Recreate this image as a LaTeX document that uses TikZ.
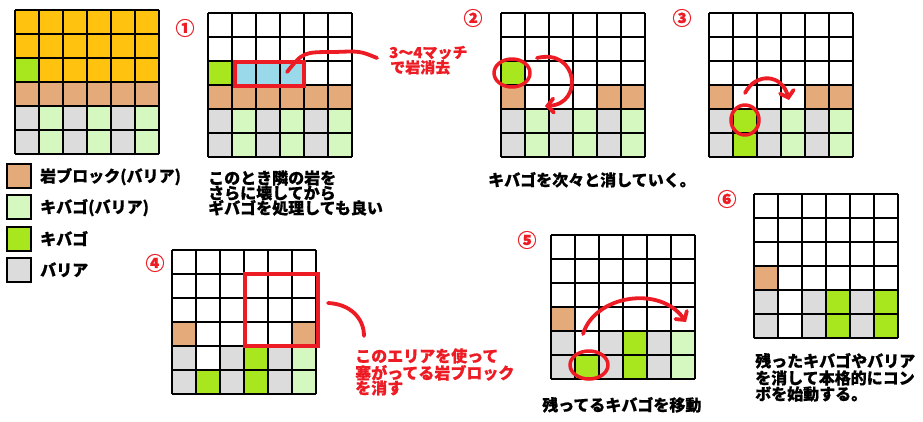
\documentclass[tikz,border=0pt]{standalone}
\usepackage{fontspec}
\newfontfamily\jp{Noto Sans CJK JP}[BoldFeatures={FakeBold=0.6}]
\usetikzlibrary{arrows.meta}
\definecolor{gold}{HTML}{FFC20E}
\definecolor{tanb}{HTML}{E5AA7A}
\definecolor{gry}{HTML}{DCDCDC}
\definecolor{lgreen}{HTML}{D5F8C1}
\definecolor{kgreen}{HTML}{A8E61D}
\definecolor{lblue}{HTML}{99D9EA}
\definecolor{pred}{HTML}{ED1C24}
\tikzset{
  gline/.style={line width=1.5pt, black},
  redline/.style={line width=3.8pt, pred, line cap=round, line join=round},
  redarrow/.style={redline, -{Straight Barb[length=6pt,width=14pt,line cap=round]}},
  txt/.style={anchor=base west, inner sep=0pt, font=\jp\bfseries\fontsize{16}{16}\selectfont},
  rtxt/.style={txt, text=pred},
  num/.style={inner sep=0pt, text=pred, font=\jp\bfseries\fontsize{19}{19}\selectfont},
  legbox/.style={draw=black, line width=1.2pt}
}
\newcommand\mygridlines{\foreach \i in {0,...,6}{\draw[gline] (\i,0)--(\i,6); \draw[gline] (0,\i)--(6,\i);}}
\newcommand\cellfill[1]{\foreach \c/\r/\k in {#1}{\fill[\k] (\c,\r) rectangle ++(1,1);}}
\newcommand\barrierrows{\cellfill{0/4/gry,0/5/gry,2/4/gry,2/5/gry,4/4/gry,4/5/gry,1/4/lgreen,1/5/lgreen,3/4/lgreen,3/5/lgreen,5/4/lgreen,5/5/lgreen}}
\begin{document}
\begin{tikzpicture}[x=1pt,y=-1pt]
\fill[white] (0,0) rectangle (923,421);
\useasboundingbox (0,0) rectangle (923,421);

% grid 0
\begin{scope}[shift={(15,10)},x=24pt,y=-24pt]
\fill[gold] (0,0) rectangle (6,3);
\cellfill{0/2/kgreen}
\fill[tanb] (0,3) rectangle (6,4);
\barrierrows
\mygridlines
\end{scope}

% grid 1
\begin{scope}[shift={(208,13)},x=24pt,y=-24pt]
\cellfill{0/2/kgreen,1/2/lblue,2/2/lblue,3/2/lblue}
\fill[tanb] (0,3) rectangle (6,4);
\barrierrows
\mygridlines
\end{scope}

% grid 2
\begin{scope}[shift={(501,13)},x=24pt,y=-24pt]
\cellfill{0/2/kgreen,0/3/tanb,4/3/tanb,5/3/tanb}
\barrierrows
\mygridlines
\end{scope}

% grid 3
\begin{scope}[shift={(709,13)},x=24pt,y=-24pt]
\cellfill{0/3/tanb,4/3/tanb,5/3/tanb}
\barrierrows
\cellfill{1/4/kgreen,1/5/kgreen}
\mygridlines
\end{scope}

% grid 4
\begin{scope}[shift={(172,250)},x=24pt,y=-24pt]
\cellfill{0/3/tanb,5/3/tanb}
\barrierrows
\cellfill{1/4/white,1/5/kgreen,3/4/kgreen,3/5/kgreen}
\mygridlines
\end{scope}

% grid 5
\begin{scope}[shift={(551,235)},x=24pt,y=-24pt]
\cellfill{0/3/tanb}
\barrierrows
\cellfill{1/4/white,1/5/kgreen,3/4/kgreen,3/5/kgreen}
\mygridlines
\end{scope}

% grid 6
\begin{scope}[shift={(754,194)},x=24pt,y=-24pt]
\cellfill{0/3/tanb}
\barrierrows
\cellfill{1/4/white,1/5/white,3/4/kgreen,3/5/kgreen,5/4/kgreen,5/5/kgreen}
\mygridlines
\end{scope}

% red marks
\draw[redline, line cap=butt, line join=miter, line width=4.5pt] (235,62) rectangle (304,86);
\draw[redline] (287,72) .. controls (303,52) .. (335,52) .. controls (360,51) .. (377,58);
\draw[redline, line width=3.5pt] (512,73) ellipse [x radius=18, y radius=14];
\draw[redarrow] (537,58) .. controls (578,48) and (584,104) .. (545,106);
\draw[redline, line width=3.5pt] (745,120) ellipse [x radius=14, y radius=15];
\draw[redarrow] (745,93) .. controls (756,72) and (782,74) .. (789,100);
\draw[redline, line cap=butt, line join=miter, line width=4.5pt] (245,274) rectangle (318,346);
\draw[redline] (328,303) .. controls (350,304) and (364,318) .. (364,336);
\draw[redline, line width=3.5pt] (589,365) ellipse [x radius=19, y radius=14];
\draw[redarrow] (583,334) .. controls (595,295) and (660,285) .. (686,322);

% circled numbers
\node[num] (n1) at (185,28) {①};
\node[num] (n2) at (473,18) {②};
\node[num] (n3) at (682,18) {③};
\node[num] (n4) at (155,263) {④};
\node[num] (n5) at (527,240) {⑤};
\node[num] (n6) at (727,199) {⑥};

% legend
\draw[legbox, fill=tanb] (7,164) rectangle (31,188);
\draw[legbox, fill=lgreen] (7,195) rectangle (31,219);
\draw[legbox, fill=kgreen] (7,227) rectangle (31,251);
\draw[legbox, fill=gry] (7,258) rectangle (31,282);
\node[txt] (l1) at (40,182) {岩ブロック(バリア)};
\node[txt] (l2) at (40,213) {キバゴ(バリア)};
\node[txt] (l3) at (40,245) {キバゴ};
\node[txt] (l4) at (40,276) {バリア};

% texts
\node[rtxt, font=\jp\bfseries\fontsize{15}{15}\selectfont] (r1a) at (389,58) {3～4マッチ};
\node[rtxt, font=\jp\bfseries\fontsize{15}{15}\selectfont] (r1b) at (390,73) {で岩消去};
\node[txt] (t1a) at (208,184) {このとき隣の岩を};
\node[txt] (t1b) at (208,199) {さらに壊してから};
\node[txt] (t1c) at (208,214) {ギバゴを処理しても良い};
\node[txt] (t2) at (488,186) {キバゴを次々と消していく。};
\node[rtxt] (r4a) at (355,362) {このエリアを使って};
\node[rtxt] (r4b) at (355,379) {塞がってる岩ブロック};
\node[rtxt] (r4c) at (355,394) {を消す};
\node[txt] (t5) at (542,411) {残ってるキバゴを移動};
\node[txt] (t6a) at (755,367) {残ったキバゴやバリア};
\node[txt] (t6b) at (755,384) {を消して本格的にコン};
\node[txt] (t6c) at (755,400) {ボを始動する。};
\end{tikzpicture}
\end{document}
